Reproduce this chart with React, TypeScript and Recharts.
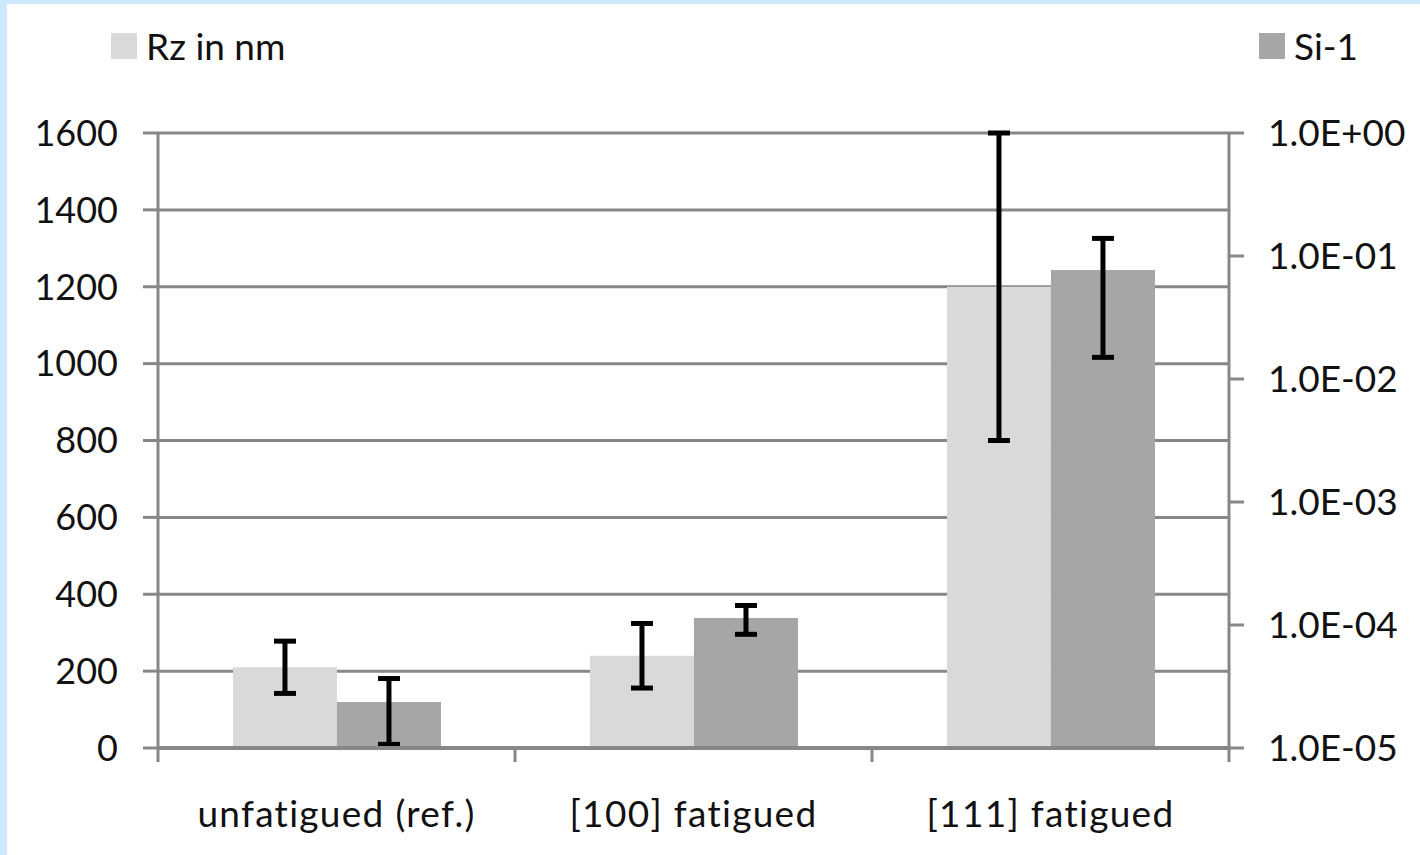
import React from 'react';
import { ComposedChart, Bar, XAxis, YAxis, CartesianGrid, ErrorBar, Legend } from 'recharts';

const categories = ['unfatigued (ref.)', '[100] fatigued', '[111] fatigued'];
const rzValues = [210, 240, 1200];
const rzErrors = [68, 84, 400];
const siValues = [2.37e-5, 1.14e-4, 0.077];
const siErrors = [1.3e-5, 3e-5, 0.062];
const leftTicks = [0, 200, 400, 600, 800, 1000, 1200, 1400, 1600];
const rightTicks = [1e-5, 1e-4, 1e-3, 1e-2, 1e-1, 1];

const data = categories.map((c, i) => ({
  name: c,
  rz: rzValues[i],
  rzErr: rzErrors[i],
  si: siValues[i],
  siErr: siErrors[i],
}));

const FONT = 'Lato, "Open Sans", sans-serif';
const AXIS = '#878787';
const LIGHT = '#d9d9d9';
const DARK = '#a6a6a6';
const TEXT = '#111111';

const fmtExp = (v: number) => {
  const e = Math.round(Math.log10(v));
  const sign = e < 0 ? '-' : '+';
  const abs = Math.abs(e);
  return `1.0E${sign}${abs < 10 ? '0' : ''}${abs}`;
};

const CategoryTick = (props: any) => {
  const { x, y, payload, index } = props;
  const off = payload.offset || 0;
  const axisY = y - 14;
  return (
    <g>
      <line x1={x - off} x2={x - off} y1={axisY} y2={axisY + 14} stroke={AXIS} strokeWidth={3} />
      {index === categories.length - 1 ? (
        <line x1={x + off} x2={x + off} y1={axisY} y2={axisY + 14} stroke={AXIS} strokeWidth={3} />
      ) : null}
      <text x={x} y={y + 65} textAnchor="middle" fill={TEXT} fontSize={37} letterSpacing={1.3} fontFamily={FONT}>
        {payload.value}
      </text>
    </g>
  );
};

const LegendContent = () => (
  <div style={{ position: 'relative', width: 1413, height: 32, fontFamily: FONT, fontSize: 37, color: TEXT }}>
    <div style={{ position: 'absolute', left: 104, top: 0, display: 'flex', alignItems: 'center', height: 32 }}>
      <span style={{ display: 'inline-block', width: 26, height: 26, background: LIGHT, marginRight: 9 }} />
      <span style={{ lineHeight: '32px' }}>Rz in nm</span>
    </div>
    <div style={{ position: 'absolute', left: 1252, top: 0, display: 'flex', alignItems: 'center', height: 32 }}>
      <span style={{ display: 'inline-block', width: 26, height: 26, background: DARK, marginRight: 9 }} />
      <span style={{ lineHeight: '32px' }}>Si-1</span>
    </div>
  </div>
);

export default function App() {
  return (
    <div style={{ position: 'absolute', left: 0, top: 0, width: 1420, height: 855, background: '#cce9fd' }}>
      <div style={{ position: 'absolute', left: 7, top: 4, width: 1413, height: 851, background: '#ffffff' }}>
        <ComposedChart
          width={1413}
          height={851}
          data={data}
          margin={{ top: 129, right: 0, bottom: 7, left: 0 }}
          barCategoryGap="21%"
          barGap={0}
        >
          <CartesianGrid yAxisId="left" horizontal vertical={false} stroke={AXIS} strokeWidth={3} />
          <XAxis
            dataKey="name"
            height={100}
            axisLine={{ stroke: AXIS, strokeWidth: 4 }}
            tickLine={false}
            tickSize={14}
            tickMargin={0}
            tick={<CategoryTick />}
            interval={0}
          />
          <YAxis
            yAxisId="left"
            orientation="left"
            width={151}
            domain={[0, 1600]}
            ticks={leftTicks}
            allowDataOverflow
            axisLine={{ stroke: AXIS, strokeWidth: 3 }}
            tickLine={{ stroke: AXIS, strokeWidth: 3 }}
            tickSize={15}
            tickMargin={25}
            tick={{ fill: TEXT, fontSize: 36, fontFamily: FONT }}
          />
          <YAxis
            yAxisId="right"
            orientation="right"
            width={191}
            scale="log"
            domain={[1e-5, 1]}
            ticks={rightTicks}
            allowDataOverflow
            tickFormatter={fmtExp}
            axisLine={{ stroke: AXIS, strokeWidth: 3 }}
            tickLine={{ stroke: AXIS, strokeWidth: 3 }}
            tickSize={15}
            tickMargin={24}
            tick={{ fill: TEXT, fontSize: 37, fontFamily: FONT, textAnchor: 'start' }}
          />
          <Legend
            layout="horizontal"
            verticalAlign="middle"
            align="center"
            wrapperStyle={{ top: 26, left: 0, width: 1413 }}
            content={<LegendContent />}
          />
          <Bar yAxisId="left" dataKey="rz" name="Rz in nm" fill={LIGHT} isAnimationActive={false}>
            <ErrorBar dataKey="rzErr" direction="y" width={11} stroke="#000" strokeWidth={5} />
          </Bar>
          <Bar yAxisId="right" dataKey="si" name="Si-1" fill={DARK} isAnimationActive={false}>
            <ErrorBar dataKey="siErr" direction="y" width={11} stroke="#000" strokeWidth={5} />
          </Bar>
        </ComposedChart>
      </div>
    </div>
  );
}
